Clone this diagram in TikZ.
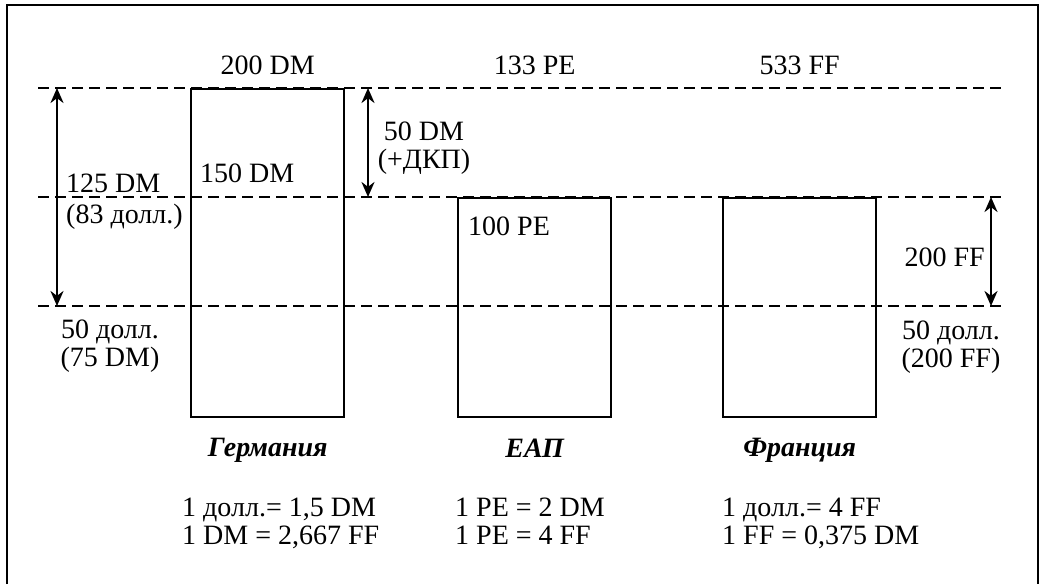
\documentclass[tikz,border=0pt]{standalone}
\usepackage{fontspec}
\setmainfont{Liberation Serif}
\usetikzlibrary{arrows.meta,positioning}

\begin{document}
\begin{tikzpicture}[x=1pt, y=-1pt, font=\fontsize{28}{28}\selectfont,
  box/.style={draw, line width=2.4pt, minimum width=153pt, inner sep=0pt, anchor=north west},
  lbl/.style={inner sep=2pt, align=center},
  cntry/.style={lbl, font=\fontsize{28}{28}\selectfont\bfseries\itshape},
  level/.style={line width=2.1pt, dash pattern=on 11pt off 6pt},
  arr/.style={{Stealth[length=15pt,width=13pt]}-{Stealth[length=15pt,width=13pt]}, line width=2.6pt}]
\useasboundingbox (0,0) rectangle (1043,584);
\draw[line width=2.4pt] (7,584) -- (7,5) -- (1038,5) -- (1038,584);

% price levels
\foreach \n/\y in {top/88, mid/197, low/306}{
  \coordinate (\n W) at (38,\y);
  \coordinate (\n E) at (1003,\y);
  \draw[level] (\n W) -- (\n E);
}

% countries
\node[box, minimum height=328pt] (ger) at (190,88) {};
\node[box, minimum height=219pt] (eap) at (457,197) {};
\node[box, minimum height=219pt] (fra) at (722,197) {};

% spreads
\coordinate (dL) at (57,0);
\coordinate (dM) at (368,0);
\coordinate (dR) at (991,0);
\draw[arr] (dL |- topW) -- (dL |- lowW);
\draw[arr] (dM |- topW) -- (dM |- midW);
\draw[arr] (dR |- midW) -- (dR |- lowW);

\node[lbl, above=11pt of ger] (gerTot) {200 DM};
\node[lbl] (eapTot) at (eap.north |- gerTot) {133 PE};
\node[lbl] (fraTot) at (fra.north |- gerTot) {533 FF};

\node[lbl, anchor=base west] (gerIn) at (198,182) {150 DM};
\node[lbl, anchor=base west] (eapIn) at (466,235) {100 PE};
\node[lbl, align=left, anchor=base west] (gerDif) at (64,223) {125 DM\\[3pt](83 долл.)};
\node[lbl, anchor=base] (dkp) at (424,168) {50 DM\\(+ДКП)};
\node[lbl, anchor=base east] (fraDif) at (987,266) {200 FF};
\node[lbl, anchor=base] (gerUSD) at (110,366) {50 долл.\\(75 DM)};
\node[lbl, anchor=base] (fraUSD) at (951,367) {50 долл.\\(200 FF)};

\node[cntry, below=18pt of ger] (gerName) {Германия};
\node[cntry, below=18pt of eap] (eapName) {ЕАП};
\node[cntry, below=18pt of fra] (fraName) {Франция};

% rates
\node[lbl, align=left, anchor=base west] (gerRate) at (180,544) {1 долл.= 1,5 DM\\1 DM = 2,667 FF};
\node[lbl, align=left, anchor=base west] (eapRate) at (453,544) {1 PE = 2 DM\\1 PE = 4 FF};
\node[lbl, align=left, anchor=base west] (fraRate) at (720,544) {1 долл.= 4 FF\\1 FF = 0,375 DM};
\end{tikzpicture}
\end{document}
